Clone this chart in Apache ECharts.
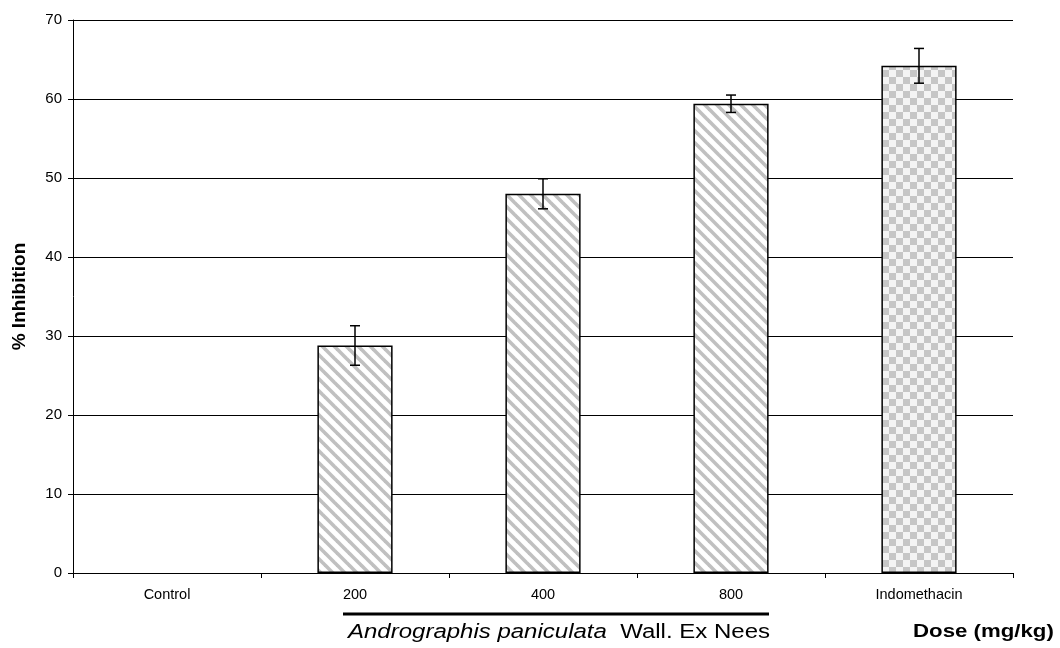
<!DOCTYPE html>
<html>
<head>
<meta charset="utf-8">
<script src="https://cdn.jsdelivr.net/npm/echarts@6/dist/echarts.min.js"></script>
<style>
  html, body { margin: 0; padding: 0; background: #fff; }
  #chart { width: 1060px; height: 648px; }
</style>
</head>
<body>
<div id="chart"></div>
<script>
// Anti-inflammatory effect: % inhibition by dose group
const categories = ['Control', '200', '400', '800', 'Indomethacin'];
const inhibition = [null, 28.8, 48.0, 59.4, 64.2];
const stdError = [null, 2.5, 1.9, 1.1, 2.2];
const yTicks = [0, 10, 20, 30, 40, 50, 60, 70];

const FONT = 'Liberation Sans, Arial, sans-serif';

// Fill patterns: diagonal hatch for the extract doses, checkerboard for the reference drug
function hatchPattern() {
  const s = 12;
  const c = document.createElement('canvas');
  c.width = s; c.height = s;
  const g = c.getContext('2d');
  g.fillStyle = '#ffffff';
  g.fillRect(0, 0, s, s);
  g.strokeStyle = '#c0c0c0';
  g.lineWidth = 3.6;
  for (let k = -1; k <= 1; k++) {
    g.beginPath();
    g.moveTo(k * s - 2, -2);
    g.lineTo(k * s + s + 2, s + 2);
    g.stroke();
  }
  return c;
}
function checkerPattern() {
  const s = 7;
  const c = document.createElement('canvas');
  c.width = 2 * s; c.height = 2 * s;
  const g = c.getContext('2d');
  g.fillStyle = '#f4f4f4';
  g.fillRect(0, 0, 2 * s, 2 * s);
  g.fillStyle = '#c6c6c6';
  g.fillRect(0, 0, s, s);
  g.fillRect(s, s, s, s);
  return c;
}
const hatch = { image: hatchPattern(), repeat: 'repeat' };
const checker = { image: checkerPattern(), repeat: 'repeat' };

const barData = inhibition.map((v, i) => ({
  value: v,
  itemStyle: { color: categories[i] === 'Indomethacin' ? checker : hatch }
}));
const errData = inhibition.map((v, i) => v == null ? [i, null, null] : [i, v - stdError[i], v + stdError[i]]);

const chart = echarts.init(document.getElementById('chart'), null, { renderer: 'canvas' });
chart.setOption({
  animation: false,
  backgroundColor: '#fff',
  grid: { left: 73, right: 47, top: 20, bottom: 75 },
  xAxis: {
    type: 'category',
    data: categories,
    axisLine: { lineStyle: { color: '#000', width: 1 } },
    axisTick: { show: true, length: 5, lineStyle: { color: '#000' } },
    axisLabel: { color: '#000', fontSize: 14.5, fontFamily: FONT, margin: 14 }
  },
  yAxis: {
    type: 'value',
    min: yTicks[0],
    max: yTicks[yTicks.length - 1],
    interval: 10,
    name: '% Inhibition',
    nameLocation: 'middle',
    nameGap: 44,
    nameTextStyle: { color: '#000', fontSize: 19, fontWeight: 'bold', fontFamily: FONT },
    axisLine: { show: true, lineStyle: { color: '#000', width: 1 } },
    axisTick: { show: true, length: 5, lineStyle: { color: '#000' } },
    axisLabel: { color: '#000', fontSize: 15, fontFamily: FONT, margin: 11 },
    splitLine: { show: true, lineStyle: { color: '#000', width: 1 } }
  },
  series: [
    {
      type: 'bar',
      data: barData,
      barWidth: '40%',
      itemStyle: { borderColor: '#000', borderWidth: 1.5 }
    },
    {
      type: 'custom',
      data: errData,
      z: 5,
      renderItem: function (params, api) {
        const lo = api.value(1), hi = api.value(2);
        if (lo == null || hi == null || isNaN(lo)) return null;
        const pLo = api.coord([api.value(0), lo]);
        const pHi = api.coord([api.value(0), hi]);
        const hw = 5;
        const st = { stroke: '#000', lineWidth: 1.5 };
        return {
          type: 'group',
          children: [
            { type: 'line', shape: { x1: pLo[0], y1: pLo[1], x2: pHi[0], y2: pHi[1] }, style: st },
            { type: 'line', shape: { x1: pLo[0] - hw, y1: pLo[1], x2: pLo[0] + hw, y2: pLo[1] }, style: st },
            { type: 'line', shape: { x1: pHi[0] - hw, y1: pHi[1], x2: pHi[0] + hw, y2: pHi[1] }, style: st }
          ]
        };
      }
    }
  ],
  graphic: [
    // bracket line under the extract dose groups
    { type: 'line', shape: { x1: 343, y1: 614, x2: 769, y2: 614 }, style: { stroke: '#000', lineWidth: 3 } },
    {
      type: 'text', x: 348, y: 632, scaleX: 1.2, originX: 0, originY: 0,
      style: {
        text: '{i|Andrographis paniculata}{n|  Wall. Ex Nees}',
        verticalAlign: 'middle',
        rich: {
          i: { fontStyle: 'italic', fontSize: 20, fill: '#000', fontFamily: FONT },
          n: { fontSize: 20, fill: '#000', fontFamily: FONT }
        }
      }
    },
    {
      type: 'text', x: 913, y: 632, scaleX: 1.17, originX: 0, originY: 0,
      style: { text: 'Dose (mg/kg)', verticalAlign: 'middle', fontSize: 19, fontWeight: 'bold', fill: '#000', fontFamily: FONT }
    }
  ]
});
</script>
</body>
</html>
